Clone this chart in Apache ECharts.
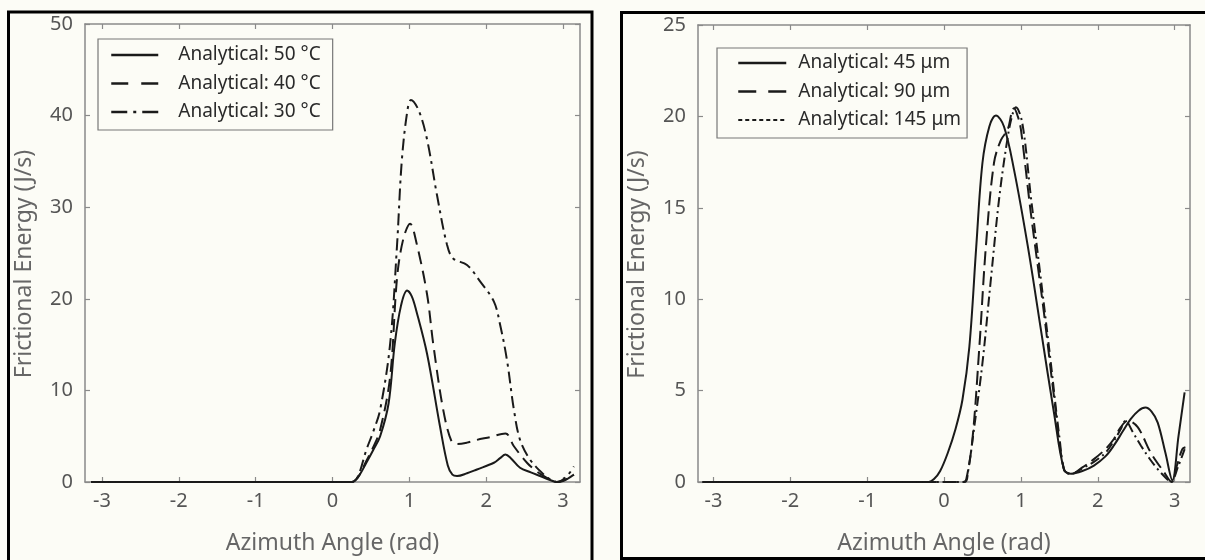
<!DOCTYPE html>
<html>
<head>
<meta charset="utf-8">
<script src="https://cdn.jsdelivr.net/npm/echarts@6/dist/echarts.min.js"></script>
<style>
html,body{margin:0;padding:0;background:#fcfcf6;}
#chart{width:1205px;height:560px;}
</style>
</head>
<body>
<div id="chart"></div>
<script>
// ---- Data ----
const xTickValues = [-3, -2, -1, 0, 1, 2, 3];

const leftNames = ['Analytical: 50 °C', 'Analytical: 40 °C', 'Analytical: 30 °C'];
const rightNames = ['Analytical: 45 μm', 'Analytical: 90 μm', 'Analytical: 145 μm'];

const temp50 = [[-3.14,0],[0.25,0],[0.33,0.5],[0.44,2.1],[0.53,3.5],[0.62,5.0],[0.73,8.6],[0.81,15.1],[0.89,19.2],[0.97,20.9],[1.03,20.3],[1.09,18.7],[1.23,14.0],[1.40,6.0],[1.50,1.8],[1.56,0.8],[1.62,0.65],[1.75,0.95],[1.88,1.37],[2.10,2.1],[2.18,2.6],[2.25,3.0],[2.32,2.6],[2.44,1.55],[2.58,1.05],[2.70,0.65],[2.82,0.25],[2.92,0.0],[3.00,0.1],[3.05,0.3],[3.14,0.8]];
const temp40 = [[-3.14,0],[0.25,0],[0.33,0.5],[0.44,2.3],[0.53,3.8],[0.62,5.7],[0.75,11.5],[0.84,22.3],[0.92,26.5],[1.01,28.2],[1.09,26.2],[1.23,20.5],[1.31,15.1],[1.44,7.9],[1.55,4.4],[1.62,4.15],[1.75,4.3],[1.88,4.6],[2.05,4.9],[2.25,5.3],[2.36,3.9],[2.53,2.1],[2.65,1.2],[2.75,0.65],[2.85,0.2],[2.92,0],[3.05,0.35],[3.14,0.8]];
const temp30 = [[-3.14,0],[0.25,0],[0.33,0.6],[0.44,3.5],[0.53,5.5],[0.62,7.9],[0.75,15.1],[0.84,25.9],[0.90,34.9],[0.97,40.3],[1.02,41.7],[1.12,40.6],[1.23,37.4],[1.36,31.3],[1.49,25.9],[1.57,24.4],[1.75,23.7],[1.92,21.9],[2.10,19.7],[2.18,17.2],[2.27,13.3],[2.36,7.9],[2.44,4.6],[2.57,2.45],[2.75,0.8],[2.85,0.2],[2.92,0],[3.05,0.65],[3.14,1.7]];

const size45 = [[-3.14,0],[-0.2,0],[-0.13,0.16],[-0.05,0.6],[0.05,1.6],[0.15,2.9],[0.24,4.5],[0.33,7.4],[0.42,12.9],[0.50,17.45],[0.59,19.45],[0.675,20.05],[0.78,19.45],[0.91,17.1],[1.09,12.9],[1.26,8.35],[1.43,3.8],[1.56,0.7],[1.65,0.45],[1.80,0.6],[1.95,0.9],[2.10,1.4],[2.21,2.0],[2.33,2.8],[2.43,3.45],[2.53,3.9],[2.62,4.07],[2.70,3.85],[2.78,3.25],[2.88,1.6],[2.97,0.1],[3.05,2.5],[3.13,4.9]];
const size90 = [[-3.14,0],[0.25,0],[0.29,0.15],[0.37,2.35],[0.46,7.4],[0.545,12.9],[0.65,17.45],[0.74,18.7],[0.83,19.3],[0.88,20.2],[0.91,20.45],[0.96,20.0],[1.0,19.3],[1.13,14.7],[1.30,9.26],[1.43,4.7],[1.56,0.7],[1.65,0.45],[1.80,0.8],[1.95,1.25],[2.10,1.8],[2.21,2.35],[2.30,3.0],[2.39,3.35],[2.52,3.0],[2.69,1.6],[2.86,0.55],[2.96,0],[3.03,0.9],[3.10,1.8],[3.14,1.9]];
const size145 = [[-3.14,0],[0.27,0],[0.31,0.5],[0.39,2.9],[0.50,6.5],[0.61,11.1],[0.72,15.6],[0.83,18.9],[0.89,20.1],[0.935,20.5],[1.02,19.6],[1.13,15.6],[1.26,11.1],[1.39,6.5],[1.50,2.5],[1.58,0.5],[1.66,0.45],[1.80,0.75],[1.95,1.1],[2.10,1.6],[2.21,2.25],[2.30,2.9],[2.36,3.35],[2.46,2.7],[2.56,2.0],[2.67,1.3],[2.78,0.7],[2.88,0.25],[2.95,0],[3.05,0.9],[3.13,1.8]];

// ---- Styles ----
const FONT = 'Noto Sans';
const AX = '#8a8a8a';
const LINE = '#1a1a1a';
const CLEAR = 'rgba(0,0,0,0)';

function xAx(grid, pos, min, max, show) {
  return {
    type: 'value', gridIndex: grid, position: pos, min: min, max: max,
    name: show ? 'Azimuth Angle (rad)' : '',
    nameLocation: 'middle', nameGap: 50,
    nameTextStyle: {fontFamily: FONT, fontSize: 23, color: '#666'},
    axisLine: {show: true, onZero: false, lineStyle: {color: AX, width: 1.5}},
    axisTick: {show: true, inside: true, length: 5, customValues: xTickValues, lineStyle: {color: AX, width: 1.2}},
    axisLabel: {show: show, customValues: xTickValues, margin: 9, fontFamily: FONT, fontSize: 20, color: '#555'},
    splitLine: {show: false}
  };
}
function yAx(grid, pos, max, interval, show) {
  return {
    type: 'value', gridIndex: grid, position: pos, min: 0, max: max, interval: interval,
    name: show ? 'Frictional Energy (J/s)' : '',
    nameLocation: 'middle', nameGap: 49, nameRotate: 90,
    nameTextStyle: {fontFamily: FONT, fontSize: 23, color: '#666', padding: [0, 22, 0, 0]},
    axisLine: {show: true, onZero: false, lineStyle: {color: AX, width: 1.5}},
    axisTick: {show: true, inside: true, length: 5, lineStyle: {color: AX, width: 1.2}},
    axisLabel: {show: show, margin: 12, fontFamily: FONT, fontSize: 20, color: '#555'},
    splitLine: {show: false}
  };
}
function ser(name, data, xi, type, width) {
  return {
    name: name, type: 'line', data: data, xAxisIndex: xi, yAxisIndex: xi,
    symbol: 'none', smooth: 0.35,
    lineStyle: {color: LINE, width: width || 2, type: type},
    itemStyle: {color: CLEAR, borderColor: CLEAR, borderWidth: 0},
    emphasis: {disabled: true}
  };
}
const legendBase = {
  orient: 'vertical',
  borderColor: '#777', borderWidth: 1.2, borderRadius: 0,
  itemHeight: 14, itemGap: 8.5,
  itemStyle: {color: CLEAR, borderColor: CLEAR, borderWidth: 0, opacity: 0},
  lineStyle: {width: 2.5},
  selectedMode: false
};

const chart = echarts.init(document.getElementById('chart'), null, {renderer: 'canvas'});
chart.setOption({
  backgroundColor: '#fcfcf6',
  animation: false,
  grid: [
    {left: 85, right: 625, top: 24, bottom: 74},
    {left: 698, right: 15, top: 25, bottom: 77}
  ],
  xAxis: [
    xAx(0, 'bottom', -3.22, 3.22, true),
    xAx(1, 'bottom', -3.2, 3.2, true),
    xAx(0, 'top', -3.22, 3.22, false),
    xAx(1, 'top', -3.2, 3.2, false)
  ],
  yAxis: [
    yAx(0, 'left', 50, 10, true),
    yAx(1, 'left', 25, 5, true),
    yAx(0, 'right', 50, 10, false),
    yAx(1, 'right', 25, 5, false)
  ],
  legend: [
    Object.assign({}, legendBase, {
      data: [
        {name: leftNames[0]},
        {name: leftNames[1], lineStyle: {type: [17, 13]}},
        {name: leftNames[2], lineStyle: {type: [16, 6, 3, 6]}}
      ],
      left: 98, top: 39,
      padding: [6, 12, 8, 12],
      itemWidth: 47,
      textStyle: {fontFamily: FONT, fontSize: 19, lineHeight: 20, color: '#2a2a2a', padding: [0, 0, 0, 15]}
    }),
    Object.assign({}, legendBase, {
      data: [
        {name: rightNames[0]},
        {name: rightNames[1], lineStyle: {type: [18, 12]}},
        {name: rightNames[2], lineStyle: {type: [4, 3], width: 2}}
      ],
      left: 717, top: 48,
      padding: [5, 6, 8, 20],
      itemWidth: 48,
      textStyle: {fontFamily: FONT, fontSize: 19, lineHeight: 20, color: '#2a2a2a', padding: [0, 0, 0, 7]}
    })
  ],
  graphic: [
    {type: 'rect', shape: {x: 8.5, y: 12, width: 583.5, height: 600}, style: {fill: 'none', stroke: '#000', lineWidth: 3}, silent: true},
    {type: 'rect', shape: {x: 621.5, y: 12.5, width: 600, height: 546}, style: {fill: 'none', stroke: '#000', lineWidth: 3}, silent: true}
  ],
  series: [
    ser(leftNames[0], temp50, 0, 'solid', 2),
    ser(leftNames[1], temp40, 0, [13, 7], 2),
    ser(leftNames[2], temp30, 0, [12, 5, 3, 5], 2),
    ser(rightNames[0], size45, 1, 'solid', 2),
    ser(rightNames[1], size90, 1, [14, 6], 2),
    ser(rightNames[2], size145, 1, [10, 4, 2, 4], 2)
  ]
});
</script>
</body>
</html>
